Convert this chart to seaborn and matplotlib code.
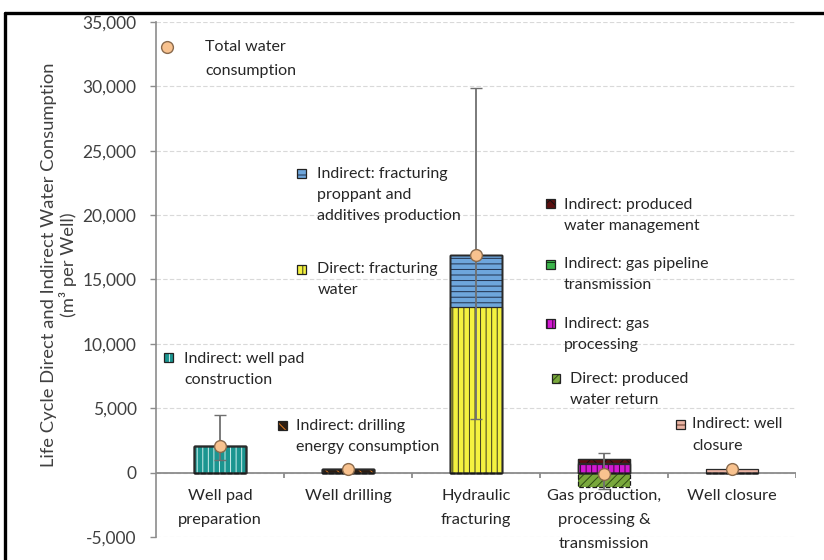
import numpy as np
import pandas as pd
import matplotlib
matplotlib.use("Agg")
import matplotlib.pyplot as plt
from matplotlib.patches import Rectangle
from matplotlib.lines import Line2D
import seaborn as sns

# Life-cycle stages of a shale gas well
stages = ["Well pad\npreparation", "Well drilling", "Hydraulic\nfracturing",
          "Gas production,\nprocessing &\ntransmission", "Well closure"]

# Water consumption components (m3 per well), listed bottom-up in each stack
well_pad_construction = [2100, 0, 0, 0, 0]
drilling_energy = [0, 250, 0, 0, 0]
fracturing_water = [0, 0, 12900, 0, 0]
proppant_additives = [0, 0, 4000, 0, 0]
gas_processing = [0, 0, 0, 700, 0]
gas_pipeline = [0, 0, 0, 60, 0]
produced_water_mgmt = [0, 0, 0, 260, 0]
produced_water_return = [0, 0, 0, -1100, 0]
well_closure = [0, 0, 0, 0, 300]

# Total per stage with its uncertainty range
total_consumption = [2100, 250, 16900, -80, 300]
range_low = [1000, 250, 4200, -1300, 300]
range_high = [4450, 250, 29900, 1550, 300]

y_ticks = list(range(-5000, 35001, 5000))

# (legend text, values, face colour, hatch, hatch colour)
components = [
    ("Indirect: well pad\nconstruction", well_pad_construction, "#1b9590", "|||", "#cfeeec"),
    ("Indirect: drilling\nenergy consumption", drilling_energy, "#2b1d12", "\\\\\\", "#e07b20"),
    ("Direct: fracturing\nwater", fracturing_water, "#f4f240", "|||", "#3a3a20"),
    ("Indirect: fracturing\nproppant and\nadditives production", proppant_additives, "#6ea6dc", "---", "#1f2f4a"),
    ("Indirect: gas\nprocessing", gas_processing, "#d21ad2", "|||", "#3a003a"),
    ("Indirect: gas pipeline\ntransmission", gas_pipeline, "#3cb44b", "--", "#0b3d12"),
    ("Indirect: produced\nwater management", produced_water_mgmt, "#5a0f0f", "xx", "#111111"),
    ("Direct: produced\nwater return", produced_water_return, "#79a83c", "////", "#2d4a12"),
    ("Indirect: well\nclosure", well_closure, "#eab4a4", "---", "#5a2d1e"),
]

sns.set_style("white")
plt.rcParams["font.family"] = ["Lato", "DejaVu Sans"]
plt.rcParams["hatch.linewidth"] = 0.7

fig = plt.figure(figsize=(8.24, 5.6), dpi=100)
ax = fig.add_axes([0.1893, 0.0411, 0.7767, 0.9196])

df = pd.DataFrame({"stage": stages})
bar_w = 0.41

# Positive parts: stacked by drawing cumulative tops from the highest layer down
pos = [c for c in components if min(c[1]) >= 0]
neg = [c for c in components if min(c[1]) < 0]
cum = np.cumsum(np.array([c[1] for c in pos], dtype=float), axis=0)

for k in range(len(pos) - 1, -1, -1):
    _, _, face, hatch, hcol = pos[k]
    sns.barplot(data=df.assign(v=cum[k]), x="stage", y="v", order=stages,
                color=face, saturation=1, width=bar_w, errorbar=None,
                edgecolor=hcol, linewidth=0, hatch=hatch, ax=ax, zorder=2)

for _, vals, face, hatch, hcol in neg:
    sns.barplot(data=df.assign(v=vals), x="stage", y="v", order=stages,
                color=face, saturation=1, width=bar_w, errorbar=None,
                edgecolor=hcol, linewidth=0, hatch=hatch, ax=ax, zorder=2)

# Segment outlines
for k in range(len(pos)):
    sns.barplot(data=df.assign(v=cum[k]), x="stage", y="v", order=stages,
                color="k", fill=False, width=bar_w, errorbar=None,
                edgecolor="#2a2a2a", linewidth=0.9, ax=ax, zorder=3)
for _, vals, *_ in neg:
    sns.barplot(data=df.assign(v=vals), x="stage", y="v", order=stages,
                color="k", fill=False, width=bar_w, errorbar=None,
                edgecolor="#1a1a1a", linewidth=0.9, linestyle="--", ax=ax, zorder=3)

# Totals with uncertainty range
xpos = np.arange(len(stages))
tot = np.array(total_consumption, dtype=float)
yerr = [tot - np.array(range_low), np.array(range_high) - tot]
ax.errorbar(xpos, tot, yerr=yerr, fmt="o", color="#6f6f6f", elinewidth=1.3,
            capsize=4, capthick=1.2, ms=8.5, mfc="#f8c28f", mec="#8a6a4c",
            mew=1.0, zorder=5)

# Axes styling
ax.set_xlim(-0.5, 4.5)
ax.set_ylim(-5000, 35000)
ax.set_yticks(y_ticks)
ax.set_yticklabels([f"{t:,}" for t in y_ticks], fontsize=12.5, color="#404040")
ax.tick_params(axis="y", direction="out", length=4, width=1, color="#8c8c8c", pad=10, left=True)
ax.set_xticks([])
ax.set_xlabel("")
ax.yaxis.grid(True, linestyle=(0, (4, 2)), color="#d9d9d9", linewidth=0.8)
ax.set_axisbelow(True)
for s in ["top", "right", "bottom"]:
    ax.spines[s].set_visible(False)
ax.spines["left"].set_color("#8c8c8c")
ax.spines["left"].set_linewidth(1.2)

ax.axhline(0, color="#8c8c8c", lw=1.3, zorder=1.5)
ax.vlines(np.arange(0.5, 5, 1), -400, 0, color="#8c8c8c", lw=1.3, zorder=1.5)

for i, lab in enumerate(stages):
    ax.text(i, -1300, lab, ha="center", va="top", fontsize=11.8, color="#262626",
            linespacing=1.9)

ax.set_ylabel("Life Cycle Direct and Indirect Water Consumption\n(m³ per Well)",
              fontsize=13.2, color="#404040", linespacing=1.15)
ax.yaxis.set_label_coords(-0.123, 0.528)

# Inline legend entries: (marker x, marker y, text x, text centre y) in axes fraction
legend_pos = [
    (0.020, 0.348, 0.044, 0.325),
    (0.198, 0.216, 0.219, 0.195),
    (0.228, 0.520, 0.252, 0.500),
    (0.228, 0.705, 0.252, 0.664),
    (0.616, 0.414, 0.6375, 0.393),
    (0.616, 0.530, 0.6375, 0.509),
    (0.616, 0.647, 0.6375, 0.625),
    (0.625, 0.307, 0.647, 0.286),
    (0.819, 0.219, 0.8375, 0.198),
]
sw, sh = 0.0140, 0.0175
for (lab, _, face, hatch, hcol), (mx, my, tx, ty) in zip(components, legend_pos):
    ax.add_patch(Rectangle((mx - sw / 2, my - sh / 2), sw, sh, transform=ax.transAxes,
                           facecolor=face, edgecolor=hcol, hatch=hatch, lw=0, zorder=6))
    ax.add_patch(Rectangle((mx - sw / 2, my - sh / 2), sw, sh, transform=ax.transAxes,
                           facecolor="none", edgecolor="#222222", lw=0.9, zorder=6))
    ax.text(tx, ty, lab, transform=ax.transAxes, ha="left", va="center",
            fontsize=11.5, color="#262626", linespacing=1.64)

ax.plot([0.017], [0.951], "o", transform=ax.transAxes, ms=8.5, mfc="#f8c28f",
        mec="#8a6a4c", mew=1.0, zorder=6)
ax.text(0.077, 0.928, "Total water\nconsumption", transform=ax.transAxes,
        ha="left", va="center", fontsize=11.5, color="#262626", linespacing=1.85)

# Outer frame
fig.add_artist(Line2D([0.006, 0.006], [0, 0.977], color="black", lw=2.4))
fig.add_artist(Line2D([0.006, 1.0], [0.977, 0.977], color="black", lw=2.4))

fig.savefig("out.png", dpi=100, facecolor="white")
